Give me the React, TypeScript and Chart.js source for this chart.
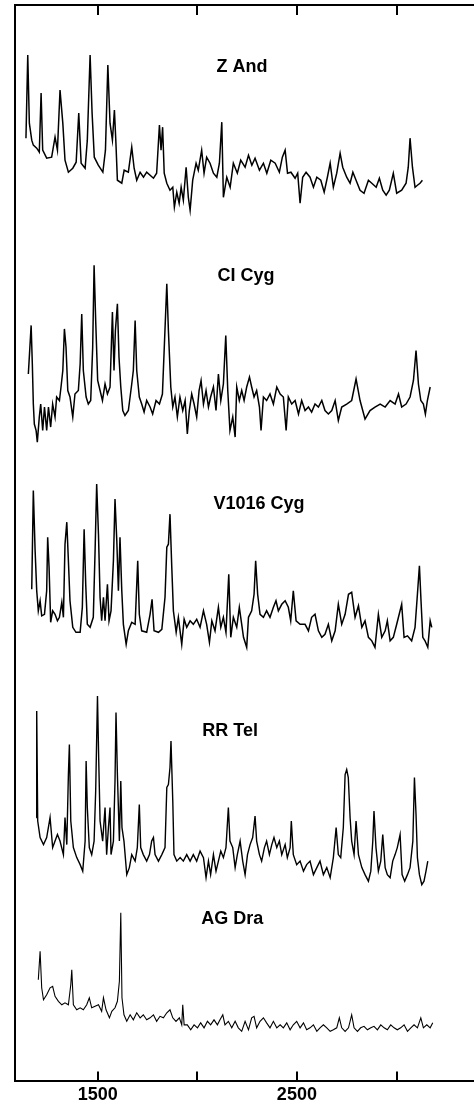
import React, { useEffect, useRef } from "react";
import { Chart, registerables } from "chart.js";

Chart.register(...registerables);

// Wavelength axis (Angstrom)
const X_MIN = 1085;
const X_MAX = 3389;
const TICK_VALUES = [1500, 2000, 2500, 3000];
const TICK_LABELS = ["1500", "", "2500", ""];

// Stars, vertical offsets of each spectrum, label positions
const STAR_NAMES = ["Z And", "CI Cyg", "V1016 Cyg", "RR Tel", "AG Dra"];
const STAR_OFFSETS = [173, 127, 86, 38, 8];
const LABEL_WAVE = [2225, 2245, 2310, 2165, 2175];
const LABEL_LEVEL = [202.6, 160.8, 115.4, 70, 32.4];

// Z And
const zAndWave = [1140,1149,1157,1169,1177,1194,1207,1216,1224,1244,1269,1286,1298,1311,1325,1336,1353,1375,1392,1405,1417,1437,1448,1462,1472,1483,1503,1526,1539,1551,1562,1574,1584,1591,1599,1621,1633,1654,1671,1683,1696,1713,1730,1746,1780,1796,1810,1818,1826,1834,1847,1863,1877,1885,1897,1909,1919,1930,1944,1955,1964,1977,1994,2005,2022,2034,2047,2064,2081,2098,2111,2123,2131,2148,2165,2181,2201,2218,2240,2257,2274,2290,2312,2332,2349,2369,2391,2412,2427,2441,2453,2470,2491,2504,2516,2529,2546,2566,2583,2600,2620,2637,2653,2667,2683,2700,2717,2730,2750,2767,2781,2797,2817,2837,2859,2876,2898,2914,2931,2948,2964,2984,3001,3026,3048,3059,3068,3080,3093,3105,3118,3130];
const zAndFlux = [15.4,32,18.4,15,14,13.4,12.6,24.4,13,11.4,11.6,15.6,13,25,18.4,11,8.6,9.4,10.6,20.4,10.4,9.4,15,32,20.4,11.6,10,8.6,13,30,18.4,15,21,15,7,6.4,9,8.6,13.6,9.4,7,8.6,7.6,8.6,7.4,8.4,18,13,17.6,8.4,6.4,5,5.6,1.6,4.6,2.4,5.6,3,9.6,3.6,1,7,10.4,9,13,8.4,11.6,10.4,8.4,7.6,10.4,18.6,3.6,7.6,5.6,10.4,8.4,11,9.6,12,10,11.4,9,10.4,8.4,11,10.4,8.6,11.6,13,8.4,8.6,7.4,8.4,2.4,7.6,8.6,7.6,5.6,7.6,7,4.6,7.6,10.4,5.6,8.4,12.4,9.6,7.6,6.4,8.6,7,5,4.4,7,6.4,5.6,7.4,5,4,5,8.4,4.4,5,6.4,9.6,15.4,9.6,5.6,6,6.4,7];

// CI Cyg
const ciCygWave = [1152,1166,1172,1177,1182,1191,1197,1207,1214,1224,1233,1244,1253,1264,1274,1286,1294,1308,1316,1325,1333,1341,1350,1361,1375,1386,1403,1412,1420,1428,1442,1453,1465,1475,1482,1490,1500,1512,1524,1537,1549,1562,1574,1582,1589,1599,1607,1616,1626,1637,1654,1671,1679,1688,1696,1709,1721,1733,1746,1763,1776,1793,1810,1825,1835,1847,1855,1867,1877,1888,1900,1913,1927,1939,1950,1960,1972,1984,1997,2009,2019,2031,2044,2056,2067,2081,2094,2106,2118,2131,2143,2153,2164,2178,2190,2198,2211,2223,2235,2248,2262,2273,2285,2298,2312,2320,2332,2348,2365,2382,2399,2416,2432,2446,2457,2474,2491,2508,2524,2541,2558,2574,2591,2608,2625,2641,2658,2675,2692,2708,2725,2750,2775,2797,2817,2842,2867,2892,2918,2943,2968,2993,3010,3026,3048,3068,3085,3098,3110,3122,3135,3145,3155,3169];
const ciCygFlux = [14.3,24,16.3,8.3,4.3,3,0.7,5.7,8.3,3,7.7,3,7.7,3.7,8.3,5.7,9.7,9,11.7,15,23.3,19.7,11,9.7,5.7,10.3,11,16.3,26.3,15,9.7,8.3,9,19.7,36,25,13,11,9,12.3,10.3,11.7,26.7,15,23,28.3,17.7,11.7,7,6,7,12.3,15,25,15,9.7,8.3,6.7,9,7.7,6.3,9,8.3,10.3,20.3,32.3,23,11.7,7.7,9.7,5.7,9.7,7,9,2.3,7,10.3,8.3,5.7,11,13,8.3,11,7.7,9.7,11.7,7,14.3,9,12.3,22,11,3,5.7,1.7,11.7,9,11,9,11.7,13.7,11.7,9.7,11,7.7,3,9.7,9,10.3,8.3,11.7,10.3,9.7,3,9.7,8.3,9,6.3,9,7,7.7,6.7,8.3,7.7,9,7,6.3,7,9,5,7.7,8.3,9,13.3,9,5.3,7,7.7,8.3,7.7,9,8.3,10.3,7.7,8.3,9.7,13,19,12.3,9,8.3,6.3,9,11.7];

// V1016 Cyg
const v1016Wave = [1169,1177,1186,1194,1202,1211,1219,1233,1244,1249,1256,1264,1274,1286,1298,1308,1320,1328,1336,1345,1353,1361,1375,1391,1412,1423,1432,1440,1448,1462,1478,1487,1495,1504,1512,1520,1529,1537,1549,1557,1567,1579,1587,1596,1604,1612,1621,1629,1643,1654,1671,1688,1701,1709,1721,1746,1763,1773,1783,1805,1822,1838,1847,1855,1863,1872,1880,1894,1905,1922,1934,1947,1964,1980,1997,2014,2031,2047,2061,2073,2089,2106,2118,2131,2144,2158,2168,2181,2198,2211,2223,2232,2248,2257,2273,2285,2293,2303,2315,2332,2348,2365,2382,2395,2407,2424,2441,2457,2469,2482,2496,2516,2541,2558,2574,2591,2608,2625,2641,2658,2675,2692,2708,2725,2742,2759,2775,2792,2809,2826,2842,2859,2876,2892,2909,2926,2943,2954,2968,2984,3001,3026,3038,3055,3076,3093,3105,3115,3123,3132,3143,3157,3169,3177];
const v1016Flux = [12.3,32,20,12,8,10,7,7.3,12,22.7,16.7,5.7,8,7.3,6,6.7,9.7,6.7,21.3,25.7,18,10,4.7,3.7,3.7,8.7,24.3,13.3,5.3,4.7,6.7,20,33.3,23.3,10.7,6,10.7,6,13.3,6,8,18,30.3,22,12,22.7,12,5.3,1.3,4,5.7,5.3,18,7.3,4,3.7,7.3,10.3,4,3.7,4.3,10.7,20.7,21.3,27.3,16.7,8,3.7,6.7,1.3,6.3,4.7,6,5.3,6.3,4.7,8,5.3,1.7,6,4,8.7,4.7,6.7,3.7,15.3,2.7,6.7,4.7,8.7,5.3,2.7,0.7,6.7,8,11.3,18,11.3,7.3,6.7,8,6.7,8.7,10,8,9.3,10,8.7,6,12,6,5.3,5.3,4,6.7,7.3,4,2.7,3.3,5.3,2,4,9.3,5.3,7.3,11.3,11.7,6.7,9,4.7,6,2.7,2,0.7,7.3,2.7,4,6,2,2.7,5.3,9.3,2.7,3,2,4.7,11.3,17,10,2.7,2,0.7,6,4.7];

// RR Tel
const rrTelWave = [1191,1194,1199,1211,1228,1244,1261,1274,1286,1298,1311,1328,1336,1345,1353,1358,1365,1378,1395,1412,1425,1437,1442,1448,1458,1470,1482,1490,1499,1505,1512,1525,1537,1545,1554,1562,1567,1579,1587,1592,1599,1609,1616,1622,1632,1646,1659,1671,1688,1699,1709,1716,1729,1746,1760,1771,1780,1788,1805,1822,1838,1847,1855,1863,1868,1877,1883,1897,1914,1930,1947,1964,1980,1997,2014,2031,2044,2056,2067,2081,2094,2106,2118,2131,2144,2156,2164,2178,2190,2201,2215,2228,2240,2252,2265,2278,2290,2298,2312,2323,2337,2348,2362,2374,2385,2399,2412,2424,2441,2452,2466,2472,2482,2499,2516,2533,2549,2566,2583,2600,2616,2633,2650,2667,2683,2697,2708,2720,2733,2742,2750,2758,2767,2775,2787,2797,2809,2826,2842,2859,2871,2881,2887,2897,2909,2921,2931,2943,2954,2968,2981,2993,3004,3018,3028,3041,3055,3068,3082,3090,3098,3105,3115,3127,3138,3148,3157];
const rrTelFlux = [14.7,36,14,10.7,9.3,10.7,14.7,8.7,10,11.3,10,7.3,14.7,9.3,23.3,29.3,14,8.7,6.7,5.3,4,10,26,16.7,8.7,7.3,10,20,39,26.7,14,10,16.7,7.3,12.7,16.7,7.3,10,22,35.7,23.3,10,22,12.7,10,3.3,4.7,7.3,6,8.7,17.3,8.7,7.3,6,7.3,10,10.7,7.3,6,7.3,8.7,20.7,21.3,24.7,30,18,7.3,6,6.7,6,7.3,6,7.3,6,8,6.7,2.7,6,3.3,7.3,4,6,8,6.7,8.7,16.7,10,8.7,4.7,7.3,10,6,3.3,7.3,9.3,10.7,15,10,7.3,6,8.7,10,7.3,9.3,10.7,8.7,10,7.3,9.3,6.7,8.7,14,7.3,5.3,6,4,5.3,6,3.3,4.7,6,3.3,4.7,2.7,6.7,12.7,7.3,6.7,12.7,23.3,24.3,22.7,14.7,10,7.3,14,7.3,4.7,3.3,2,4,10,16,8.7,4,6,11.3,4.7,3.3,2.7,6,7.3,8.7,11.3,3.3,2,3.3,4.7,10,22.7,15.3,6.7,3.3,1.3,2,4,6];

// AG Dra
const agDraWave = [1202,1211,1219,1228,1244,1261,1274,1286,1303,1320,1336,1353,1365,1370,1378,1395,1412,1428,1445,1458,1470,1487,1504,1520,1529,1542,1559,1571,1587,1599,1609,1616,1622,1632,1646,1663,1679,1696,1713,1729,1746,1763,1780,1796,1813,1830,1847,1863,1877,1893,1910,1922,1927,1934,1950,1967,1984,2001,2017,2034,2051,2067,2084,2101,2114,2128,2139,2156,2173,2190,2206,2223,2240,2257,2273,2285,2298,2315,2332,2348,2365,2382,2399,2416,2432,2449,2466,2482,2499,2516,2533,2549,2566,2583,2600,2616,2633,2650,2667,2683,2700,2713,2725,2742,2759,2775,2787,2804,2820,2837,2854,2871,2887,2904,2921,2938,2954,2971,2988,3004,3021,3038,3055,3072,3088,3105,3122,3135,3152,3169,3182];
const agDraFlux = [12.3,18,10.7,8.3,9.3,10.7,11,9,8,7.3,7.7,7.3,11.3,14.3,7.3,6.3,6.7,6.3,7.3,8.7,6.7,7,7.3,6,8.7,6.3,4.7,6,6.7,8,12,25.7,8.7,5.3,4,5.3,4.3,5.7,4.7,5.3,4.3,4.7,5.3,4,5,4.7,5.7,6.3,4.7,4,4.7,3.3,7.3,3.3,3.3,2.3,3.3,2.7,3.7,2.7,4,3.3,4.3,3.3,4.3,5.3,3.3,4,2.7,4,2.7,2,4,2.3,4.7,5,2.7,4,4.7,3.7,2.7,4,2.7,3.3,2.7,3.7,2.3,3.3,4,2.7,3.7,2.3,2.7,3.3,2,2.7,3.3,2.7,2,2.3,2.7,4.7,2.7,2,2.7,5.3,2.7,2,2.7,3,2.3,2.7,3,2.3,3.3,2.7,2.3,3.3,2.7,2.3,2.7,3.3,2,2.7,3.3,2.7,4.7,2.7,3.3,2.7,3.7];

const SPECTRA_WAVES = [zAndWave, ciCygWave, v1016Wave, rrTelWave, agDraWave];
const SPECTRA_FLUXES = [zAndFlux, ciCygFlux, v1016Flux, rrTelFlux, agDraFlux];
const LINE_WIDTHS = [1.5, 1.5, 1.5, 1.4, 1.1];

const FONT_FAMILY = "'Liberation Sans', Arial, Helvetica, sans-serif";

const overlayPlugin = {
  id: "overlay",
  afterDatasetsDraw(chart: any) {
    const { ctx, chartArea, scales } = chart;
    const xs = scales.x;
    const ys = scales.y;
    ctx.save();
    ctx.strokeStyle = "#000";
    ctx.lineWidth = 2;
    TICK_VALUES.forEach((v) => {
      const px = Math.round(xs.getPixelForValue(v));
      ctx.beginPath();
      ctx.moveTo(px, chartArea.bottom);
      ctx.lineTo(px, chartArea.bottom - 10);
      ctx.moveTo(px, chartArea.top);
      ctx.lineTo(px, chartArea.top + 10);
      ctx.stroke();
    });
    ctx.fillStyle = "#000";
    ctx.font = `bold 18px ${FONT_FAMILY}`;
    ctx.textAlign = "center";
    ctx.textBaseline = "middle";
    STAR_NAMES.forEach((name, i) => {
      ctx.fillText(name, xs.getPixelForValue(LABEL_WAVE[i]), ys.getPixelForValue(LABEL_LEVEL[i]));
    });
    ctx.restore();
  },
};

export default function App() {
  const canvasRef = useRef<HTMLCanvasElement | null>(null);

  useEffect(() => {
    if (!canvasRef.current) return;
    const datasets = STAR_NAMES.map((name, s) => ({
      label: name,
      data: SPECTRA_WAVES[s]
        .map((w, i) => ({ x: w, y: STAR_OFFSETS[s] + SPECTRA_FLUXES[s][i] }))
        .filter((p) => Number.isFinite(p.y)),
      borderColor: "#000",
      backgroundColor: "#000",
      borderWidth: LINE_WIDTHS[s],
      pointRadius: 0,
      tension: 0,
      fill: false,
      xAxisID: "x",
      yAxisID: "y",
    }));

    const chart = new Chart(canvasRef.current, {
      type: "line",
      data: { datasets },
      options: {
        animation: false,
        responsive: false,
        events: [],
        layout: { padding: { left: 15, top: 5, right: 0, bottom: -3 } },
        plugins: { legend: { display: false }, tooltip: { enabled: false } },
        scales: {
          x: {
            type: "linear",
            position: "bottom",
            min: X_MIN,
            max: X_MAX,
            afterBuildTicks: (axis: any) => {
              axis.ticks = TICK_VALUES.map((v) => ({ value: v }));
            },
            grid: { display: false, drawTicks: false },
            border: { display: true, color: "#000", width: 2 },
            ticks: {
              autoSkip: false,
              maxRotation: 0,
              minRotation: 0,
              color: "#000",
              padding: 3,
              font: { family: FONT_FAMILY, size: 18, weight: "bold" },
              callback: (value: any, index: number) => {
                const i = TICK_VALUES.indexOf(Math.round(Number(value)));
                const j = i >= 0 ? i : index;
                return TICK_LABELS[j] !== undefined ? TICK_LABELS[j] : "";
              },
            },
          },
          x2: {
            type: "linear",
            position: "top",
            min: X_MIN,
            max: X_MAX,
            grid: { display: false, drawTicks: false },
            border: { display: true, color: "#000", width: 2 },
            ticks: { display: false },
          },
          y: {
            type: "linear",
            min: 0,
            max: 215,
            grid: { display: false, drawTicks: false },
            border: { display: true, color: "#000", width: 2 },
            ticks: { display: false },
          },
        },
      },
      plugins: [overlayPlugin],
    } as any);
    return () => chart.destroy();
  }, []);

  return (
    <div style={{ position: "absolute", left: 0, top: 0, width: 474, height: 1106, background: "#fff" }}>
      <canvas ref={canvasRef} width={474} height={1106} style={{ display: "block" }} />
    </div>
  );
}
